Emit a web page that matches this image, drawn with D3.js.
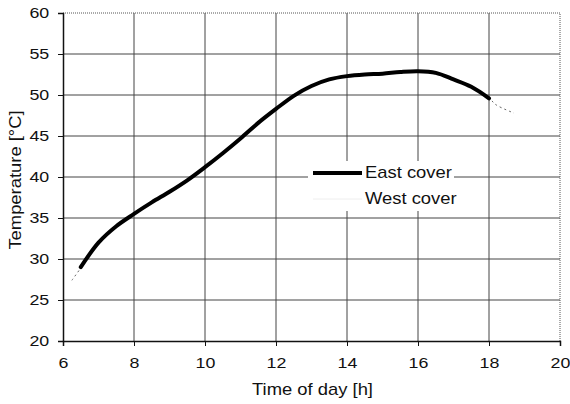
<!DOCTYPE html>
<html>
<head>
<meta charset="utf-8">
<script src="https://cdn.jsdelivr.net/npm/d3@7"></script>
<style>
  body { margin: 0; background: #fff; }
  svg text { font-family: "Liberation Sans", Arial, sans-serif; fill: #111; }
</style>
</head>
<body>
<svg id="chart" width="570" height="404"></svg>
<script>
// East cover (thick line), hour of day -> temperature
const eastHours = [6.5, 7, 7.5, 8, 8.5, 9, 9.5, 10, 10.5, 11, 11.5, 12, 12.5, 13, 13.5, 14, 14.5, 15, 15.5, 16, 16.5, 17, 17.5, 18];
const eastTemps = [29.0, 32.0, 34.0, 35.5, 36.9, 38.2, 39.6, 41.2, 42.9, 44.7, 46.6, 48.3, 49.9, 51.1, 51.9, 52.3, 52.5, 52.6, 52.8, 52.9, 52.7, 51.9, 51.0, 49.6];
// West cover (thin faint line, mostly hidden under east)
const westHours = [6.25, 6.5, 7, 8, 9, 10, 11, 12, 13, 14, 15, 16, 17, 18, 18.2, 18.7];
const westTemps = [27.4, 28.9, 32.0, 35.5, 38.2, 41.2, 44.7, 48.3, 51.1, 52.3, 52.6, 52.9, 51.9, 49.6, 48.8, 47.8];

const xTicks = [6, 8, 10, 12, 14, 16, 18, 20];
const yTicks = [20, 25, 30, 35, 40, 45, 50, 55, 60];
const seriesNames = ["East cover", "West cover"];

const svg = d3.select("#chart");
const plotLeft = 63, plotRight = 560, plotTop = 13, plotBottom = 341;
const stretch = "scale(1.15,1)"; // scanned text is wider than tall

const x = d3.scaleLinear().domain([6, 20]).range([plotLeft, plotRight]);
const y = d3.scaleLinear().domain([20, 60]).range([plotBottom, plotTop]);

// grid
svg.append("g")
  .selectAll("line")
  .data(yTicks.slice(1, -1))
  .enter()
  .append("line")
  .attr("x1", plotLeft).attr("x2", plotRight)
  .attr("y1", d => y(d)).attr("y2", d => y(d))
  .attr("stroke", "#444").attr("stroke-width", 1);

svg.append("g")
  .selectAll("line")
  .data(xTicks.slice(1, -1))
  .enter()
  .append("line")
  .attr("y1", plotTop).attr("y2", plotBottom)
  .attr("x1", d => x(d)).attr("x2", d => x(d))
  .attr("stroke", "#444").attr("stroke-width", 1);

// top and right border, dotted like the scan
svg.append("path")
  .attr("d", `M${plotLeft},${plotTop}H${plotRight}V${plotBottom}`)
  .attr("fill", "none")
  .attr("stroke", "#555")
  .attr("stroke-dasharray", "1,1");

// axes
const yAxis = d3.axisLeft(y).tickValues(yTicks).tickSize(5).tickPadding(7);
svg.append("g")
  .attr("transform", `translate(${plotLeft},0)`)
  .call(yAxis)
  .call(g => g.select(".domain").attr("stroke", "#111").attr("stroke-width", 1.5))
  .call(g => g.selectAll(".tick line").attr("stroke", "#111"))
  .call(g => g.selectAll("text")
    .attr("font-size", 15.5)
    .attr("font-family", "Liberation Sans, Arial, sans-serif")
    .attr("transform", stretch));

const xAxis = d3.axisBottom(x).tickValues(xTicks).tickSize(5).tickPadding(11);
svg.append("g")
  .attr("transform", `translate(0,${plotBottom})`)
  .call(xAxis)
  .call(g => g.select(".domain").attr("stroke", "#111").attr("stroke-width", 1.5))
  .call(g => g.selectAll(".tick line").attr("stroke", "#111"))
  .call(g => g.selectAll("text")
    .attr("font-size", 15.5)
    .attr("font-family", "Liberation Sans, Arial, sans-serif")
    .attr("transform", stretch));

// axis titles
svg.append("text")
  .attr("transform", `translate(${x(13) + 1},395) ${stretch}`)
  .attr("text-anchor", "middle")
  .attr("font-size", 16)
  .text("Time of day [h]");

svg.append("text")
  .attr("transform", `translate(21,180) rotate(-90) ${stretch}`)
  .attr("text-anchor", "middle")
  .attr("font-size", 16)
  .text("Temperature [°C]");

// lines
const line = d3.line()
  .x(d => x(d[0]))
  .y(d => y(d[1]))
  .curve(d3.curveCatmullRom.alpha(0.5));

svg.append("path")
  .datum(westHours.map((h, i) => [h, westTemps[i]]))
  .attr("d", line)
  .attr("fill", "none")
  .attr("stroke", "#666")
  .attr("stroke-width", 1)
  .attr("stroke-dasharray", "2,3");

svg.append("path")
  .datum(eastHours.map((h, i) => [h, eastTemps[i]]))
  .attr("d", line)
  .attr("fill", "none")
  .attr("stroke", "#000")
  .attr("stroke-width", 4)
  .attr("stroke-linecap", "round");

// legend
const legend = svg.append("g");
legend.append("rect")
  .attr("x", 308).attr("y", 161)
  .attr("width", 146).attr("height", 50)
  .attr("fill", "#fff");

const legendColors = ["#000", "#eee"];
const legendWidths = [4, 1];
seriesNames.forEach((name, i) => {
  const ly = 173 + i * 26;
  legend.append("line")
    .attr("x1", 313).attr("x2", 362)
    .attr("y1", ly).attr("y2", ly)
    .attr("stroke", legendColors[i])
    .attr("stroke-width", legendWidths[i]);
  legend.append("text")
    .attr("transform", `translate(365,${ly + 5}) ${stretch}`)
    .attr("font-size", 16)
    .text(name);
});
</script>
</body>
</html>
